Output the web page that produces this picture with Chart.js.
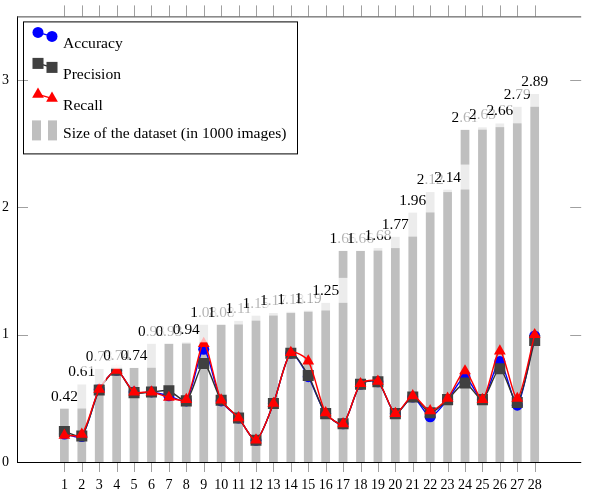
<!DOCTYPE html>
<html>
<head>
<meta charset="utf-8">
<script src="https://cdn.jsdelivr.net/npm/chart.js@4.4.1/dist/chart.umd.min.js"></script>
<style>
  html, body { margin: 0; padding: 0; background: #fff; }
</style>
</head>
<body>
<canvas id="chart" width="589" height="496"></canvas>
<script>
// Dataset ids along the x axis and the values.
const datasetIds = [1, 2, 3, 4, 5, 6, 7, 8, 9, 10, 11, 12, 13, 14, 15, 16, 17, 18, 19, 20, 21, 22, 23, 24, 25, 26, 27, 28];
const datasetSize = [0.42, 0.61, 0.73, 0.74, 0.74, 0.93, 0.93, 0.94, 1.08, 1.08, 1.11, 1.15, 1.17, 1.18, 1.19, 1.25, 1.66, 1.66, 1.68, 1.77, 1.96, 2.12, 2.14, 2.61, 2.63, 2.66, 2.79, 2.89];
const accuracy = [0.22, 0.20, 0.57, 0.72, 0.55, 0.55, 0.52, 0.48, 0.885, 0.48, 0.345, 0.17, 0.46, 0.855, 0.67, 0.38, 0.30, 0.61, 0.63, 0.38, 0.51, 0.355, 0.49, 0.668, 0.49, 0.79, 0.446, 0.99];
const precision = [0.24, 0.205, 0.565, 0.72, 0.545, 0.55, 0.56, 0.48, 0.773, 0.485, 0.345, 0.17, 0.46, 0.855, 0.68, 0.38, 0.30, 0.61, 0.63, 0.38, 0.51, 0.386, 0.49, 0.621, 0.49, 0.733, 0.467, 0.955];
const recall = [0.21, 0.217, 0.571, 0.72, 0.55, 0.55, 0.507, 0.49, 0.93, 0.486, 0.347, 0.172, 0.46, 0.86, 0.793, 0.386, 0.30, 0.615, 0.634, 0.381, 0.52, 0.402, 0.50, 0.715, 0.49, 0.872, 0.499, 1.0];
const yTicks = [0, 1, 2, 3];

const serif = '"Liberation Serif", "DejaVu Serif", serif';
const toPoints = (values) => values.map((v, i) => ({ x: datasetIds[i], y: v }));

// Shared line styling for the three metric series.
const metricLine = (dataset) => ({
  type: 'line',
  borderWidth: 1.4,
  tension: 0.25,
  pointBorderWidth: 0,
  pointHoverRadius: 0,
  ...dataset,
});

// Axis frame with tick marks, drawn under the data.
const frame = {
  id: 'frame',
  beforeDatasetsDraw(chart) {
    const { ctx, chartArea: a, scales: { x, y } } = chart;
    ctx.save();
    ctx.lineWidth = 1;
    ctx.strokeStyle = '#a0a0a0';
    ctx.beginPath();
    datasetIds.forEach((v) => {
      const px = Math.round(x.getPixelForValue(v)) + 0.5;
      ctx.moveTo(px, a.bottom);
      ctx.lineTo(px, a.bottom + 10);
      ctx.moveTo(px, a.top);
      ctx.lineTo(px, a.top - 11);
    });
    yTicks.forEach((v) => {
      const py = Math.round(y.getPixelForValue(v)) + 0.5;
      ctx.moveTo(a.left, py);
      ctx.lineTo(a.left + 11, py);
      ctx.moveTo(a.right, py);
      ctx.lineTo(a.right - 11, py);
    });
    ctx.stroke();
    ctx.strokeStyle = '#000';
    ctx.beginPath();
    ctx.moveTo(a.left + 0.5, a.top);
    ctx.lineTo(a.left + 0.5, a.bottom);
    ctx.moveTo(a.left, a.bottom + 0.5);
    ctx.lineTo(a.right, a.bottom + 0.5);
    ctx.stroke();
    ctx.strokeStyle = '#444';
    ctx.beginPath();
    ctx.moveTo(a.left, a.top + 0.5);
    ctx.lineTo(a.right, a.top + 0.5);
    ctx.stroke();
    ctx.restore();
  },
};

// Value labels above the bars, each on a half-transparent white box.
const valueLabels = {
  id: 'valueLabels',
  afterDatasetsDraw(chart) {
    const { ctx } = chart;
    const meta = chart.getDatasetMeta(3);
    ctx.save();
    ctx.font = '15.4px ' + serif;
    ctx.textAlign = 'center';
    ctx.textBaseline = 'middle';
    meta.data.forEach((bar, i) => {
      ctx.fillStyle = 'rgba(255,255,255,0.7)';
      ctx.fillRect(bar.x - 24, bar.y - 25, 48, 25);
      ctx.fillStyle = '#000';
      ctx.fillText(datasetSize[i].toFixed(2), bar.x, bar.y - 12);
    });
    ctx.restore();
  },
};

// pgfplots-like legend box in the upper left corner.
const boxLegend = {
  id: 'boxLegend',
  afterDraw(chart) {
    const { ctx, chartArea: a } = chart;
    const left = a.left + 6;
    const top = a.top + 5;
    ctx.save();
    ctx.lineWidth = 1;
    ctx.strokeStyle = '#000';
    ctx.strokeRect(left + 0.5, top + 0.5, 274, 132);
    ctx.font = '15.6px ' + serif;
    ctx.textAlign = 'left';
    ctx.textBaseline = 'middle';
    const order = [0, 1, 2];
    order.forEach((idx, row) => {
      const ds = chart.data.datasets[idx];
      const y0 = top + 11 + row * 31;
      ctx.strokeStyle = ds.borderColor;
      ctx.lineWidth = 1.2;
      ctx.beginPath();
      ctx.moveTo(left + 15, y0);
      ctx.lineTo(left + 29, y0 + 4);
      ctx.stroke();
      const style = {
        pointStyle: ds.pointStyle,
        radius: ds.pointRadius,
        rotation: 0,
        borderWidth: 0,
      };
      ctx.fillStyle = ds.pointBackgroundColor;
      Chart.helpers.drawPoint(ctx, style, left + 15, y0);
      Chart.helpers.drawPoint(ctx, style, left + 29, y0 + 4);
      ctx.fillStyle = '#000';
      ctx.fillText(ds.label, left + 40, y0 + 12);
    });
    const bars = chart.data.datasets[3];
    ctx.fillStyle = bars.backgroundColor;
    ctx.fillRect(left + 9, top + 99, 9, 20);
    ctx.fillRect(left + 25, top + 99, 9, 20);
    ctx.fillStyle = '#000';
    ctx.fillText(bars.label, left + 40, top + 113);
    ctx.restore();
  },
};

new Chart(document.getElementById('chart'), {
  type: 'bar',
  data: {
    datasets: [
      metricLine({
        label: 'Accuracy',
        data: toPoints(accuracy),
        borderColor: '#0000ff',
        pointBackgroundColor: '#0000ff',
        pointStyle: 'circle',
        pointRadius: 5.5,
        order: 3,
      }),
      metricLine({
        label: 'Precision',
        data: toPoints(precision),
        borderColor: '#303030',
        pointBackgroundColor: '#404040',
        pointStyle: 'rect',
        pointRadius: 7.8,
        order: 2,
      }),
      metricLine({
        label: 'Recall',
        data: toPoints(recall),
        borderColor: '#ff0000',
        pointBackgroundColor: '#ff0000',
        pointStyle: 'triangle',
        pointRadius: 6.8,
        order: 1,
      }),
      {
        type: 'bar',
        label: 'Size of the dataset (in 1000 images)',
        data: toPoints(datasetSize),
        backgroundColor: '#bfbfbf',
        borderWidth: 0,
        barPercentage: 0.5,
        categoryPercentage: 1.0,
        order: 4,
      },
    ],
  },
  options: {
    responsive: false,
    animation: false,
    devicePixelRatio: 1,
    layout: { padding: { top: 15, left: 0, right: 0, bottom: 0 } },
    plugins: {
      legend: { display: false },
      tooltip: { enabled: false },
    },
    scales: {
      x: {
        type: 'linear',
        min: -1.72,
        max: 30.67,
        offset: false,
        grid: { display: false, drawTicks: false },
        border: { display: false },
        ticks: {
          color: '#000',
          font: { family: serif, size: 14 },
          padding: 15,
          maxRotation: 0,
          autoSkip: false,
        },
        afterBuildTicks: (scale) => {
          scale.ticks = datasetIds.map((v) => ({ value: v }));
        },
        afterFit: (scale) => {
          scale.height = 34;
        },
      },
      y: {
        min: 0,
        max: 3.5,
        grid: { display: false, drawTicks: false },
        border: { display: false },
        ticks: {
          color: '#000',
          font: { family: serif, size: 14 },
          padding: 8,
        },
        afterBuildTicks: (scale) => {
          scale.ticks = yTicks.map((v) => ({ value: v }));
        },
        afterFit: (scale) => {
          scale.width = 17;
        },
      },
    },
  },
  plugins: [frame, valueLabels, boxLegend],
});
</script>
</body>
</html>
